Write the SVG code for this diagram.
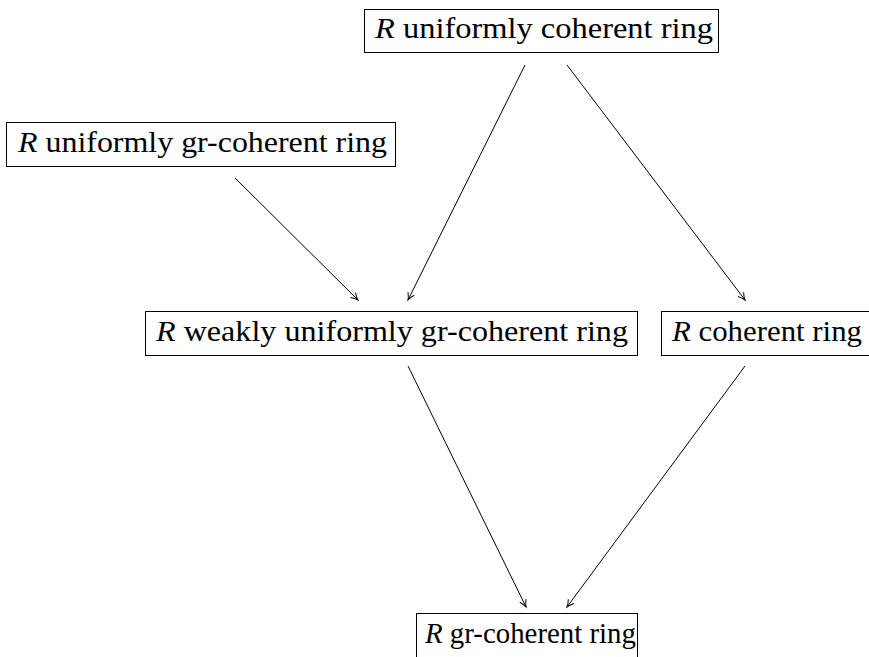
<svg xmlns="http://www.w3.org/2000/svg" width="869" height="657" viewBox="0 0 869 657">
<defs>
<style>
.box{fill:#fff;stroke:#000;stroke-width:1}
.lbl{font-family:"Liberation Serif","DejaVu Serif",serif;font-size:30px;fill:#000}
.it{font-style:italic}
.edge{stroke:#000;stroke-width:1;fill:none;marker-end:url(#ah)}
</style>
<marker id="ah" viewBox="-8 -5 10 10" refX="0" refY="0" markerWidth="10" markerHeight="10" markerUnits="userSpaceOnUse" orient="auto">
<path d="M-7,-3.5 Q-3,-0.8 0,0 Q-3,0.8 -7,3.5" fill="none" stroke="#000" stroke-width="1"/>
</marker>
</defs>
<rect width="869" height="657" fill="#fff"/>
<g id="nodes">
<g id="n-uc">
<rect class="box" x="364.5" y="9.5" width="354" height="43"/>
<text class="lbl" x="375" y="38" textLength="338" lengthAdjust="spacingAndGlyphs"><tspan class="it">R</tspan> uniformly coherent ring</text>
</g>
<g id="n-ugc">
<rect class="box" x="6.5" y="122.5" width="389" height="44"/>
<text class="lbl" x="18" y="152" textLength="369" lengthAdjust="spacingAndGlyphs"><tspan class="it">R</tspan> uniformly gr-coherent ring</text>
</g>
<g id="n-wugc">
<rect class="box" x="145.5" y="311.5" width="492" height="44"/>
<text class="lbl" x="156" y="341" textLength="472" lengthAdjust="spacingAndGlyphs"><tspan class="it">R</tspan> weakly uniformly gr-coherent ring</text>
</g>
<g id="n-c">
<rect class="box" x="661.5" y="311.5" width="220" height="44"/>
<text class="lbl" x="672" y="341" textLength="190" lengthAdjust="spacingAndGlyphs"><tspan class="it">R</tspan> coherent ring</text>
</g>
<g id="n-gc">
<rect class="box" x="416.5" y="613.5" width="221" height="60"/>
<text class="lbl" x="425" y="643" textLength="211" lengthAdjust="spacingAndGlyphs"><tspan class="it">R</tspan> gr-coherent ring</text>
</g>
</g>
<g id="connectors">
<line class="edge" x1="235" y1="178" x2="358" y2="300"/>
<line class="edge" x1="525" y1="65" x2="408" y2="300"/>
<line class="edge" x1="567" y1="65" x2="745" y2="300"/>
<line class="edge" x1="408" y1="366" x2="526" y2="607"/>
<line class="edge" x1="745" y1="366" x2="567" y2="607"/>
</g>
</svg>
